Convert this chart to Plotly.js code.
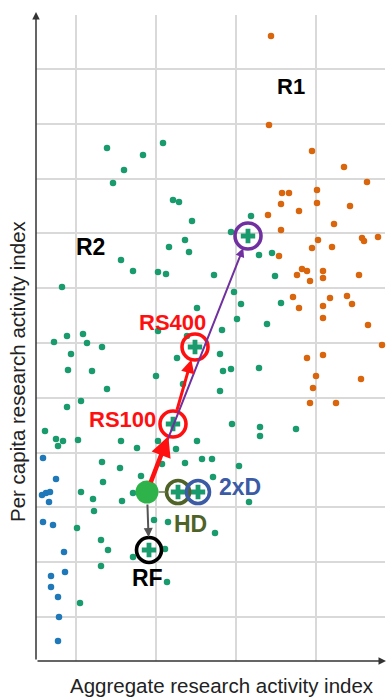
<!DOCTYPE html>
<html><head><meta charset="utf-8">
<script src="https://cdn.plot.ly/plotly-3.0.1.min.js"></script>
<style>html,body{margin:0;padding:0;background:#fff}#chart{width:387px;height:698px}</style>
</head><body><div id="chart"></div>
<script>
// Index units (aggregate index on x, per-capita index on y)
const greenX = [71,88,77,107,127,137,143,156,215,195,149,133,153,85,97,122,130,178,26,198,205,245,223,236,239,201,231,186,184,161,122,151,18,31,47,51,66,35,32,56,71,45,31,120,141,147,187,195,223,184,196,224,224,260,9,20,22,27,42,85,101,122,140,161,66,84,105,126,149,166,176,203,177,67,86,45,57,97,58,41,118,132,179,65,72,97,129,65,131,44,213];
const greenY = [513,491,478,506,518,461,459,440,445,429,421,414,409,401,390,389,387,386,374,369,357,358,406,408,385,342,337,331,307,353,330,325,319,325,327,318,314,307,291,290,272,260,254,285,303,277,290,292,293,270,237,234,225,232,230,222,215,220,221,220,213,220,212,220,199,193,185,197,198,202,202,195,184,179,160,169,162,168,150,133,141,139,128,121,111,104,112,95,79,58,159];
const orangeX = [235,233,276,308,331,246,253,281,245,281,263,314,232,298,245,282,326,328,342,296,276,243,266,271,287,261,287,274,323,257,294,311,263,287,316,287,332,346,271,287,280,325,277,274,300];
const orangeY = [625,536,510,494,479,468,468,471,457,458,450,455,446,437,431,421,423,420,424,414,413,405,392,390,390,386,383,380,386,364,363,365,353,355,357,343,336,316,303,306,285,282,273,258,258];
const blueX = [7,20,6,10,14,13,7,17,28,29,15,15,22,23,22];
const blueY = [203,182,166,168,169,159,139,136,109,89,85,74,64,44,20];

// Scenario points: start, RS100, RS400, 2x-aggregate (purple), HD, 2xD, RF
const scenNames = ["Start","RS100","RS400","R1 target","HD","2xD","RF"];
const scenX = [111,137,159,212,142,162,113];
const scenY = [169,237,314,425,169,169,111];

const FONT = "Liberation Sans, Arial, sans-serif";
const GREEN = "#1a9b6e", ORANGE = "#d9650d", BLUE = "#1f78b8";
const RED = "#ff1010", PURPLE = "#7030a0", OLIVE = "#4f6228", NAVY = "#3b5ba5";

const ringIdx = [1,2,3,4,5,6];
const ringColors = [RED, RED, PURPLE, OLIVE, NAVY, "#000000"];
const ringSizes = [26, 26, 26, 23, 23, 25];

const traces = [
  {type:"scatter", mode:"markers", x:greenX, y:greenY, marker:{color:GREEN, size:6.5}, hoverinfo:"none", cliponaxis:false},
  {type:"scatter", mode:"markers", x:orangeX, y:orangeY, marker:{color:ORANGE, size:6.5}, hoverinfo:"none", cliponaxis:false},
  {type:"scatter", mode:"markers", x:blueX, y:blueY, marker:{color:BLUE, size:6.5}, hoverinfo:"none", cliponaxis:false},
  {type:"scatter", mode:"markers", x:ringIdx.map(i=>scenX[i]), y:ringIdx.map(i=>scenY[i]),
   marker:{symbol:"cross", color:GREEN, size:12}, hoverinfo:"none"},
  {type:"scatter", mode:"markers", x:[scenX[0]], y:[scenY[0]], marker:{color:"#2db34a", size:23}, hoverinfo:"none"},
  {type:"scatter", mode:"markers", x:ringIdx.map(i=>scenX[i]), y:ringIdx.map(i=>scenY[i]),
   marker:{symbol:"circle", color:"rgba(0,0,0,0)", size:ringSizes, opacity:1, line:{color:ringColors, width:3.6}}, hoverinfo:"none"}
];

function arrow(from, to, color, width, head, so, sso){
  return {x:scenX[to], y:scenY[to], ax:scenX[from], ay:scenY[from], xref:"x", yref:"y", axref:"x", ayref:"y",
    text:"", showarrow:true, arrowcolor:color, arrowwidth:width, arrowhead:head, arrowsize:0.9, standoff:so, startstandoff:sso};
}
function label(t, px, py, color, size){
  return {x:px, y:py, xref:"x", yref:"y", text:"<b>"+t+"</b>", showarrow:false,
    font:{family:FONT, size:size, color:color}, xanchor:"center", yanchor:"middle"};
}

const annotations = [
  arrow(0,4, "#6b7a4a", 1.5, 0, 12, 10),
  arrow(0,6, "#555555", 2, 2, 13, 11),
  arrow(0,3, PURPLE, 2, 2, 13, 11),
  arrow(0,1, RED, 4.5, 2, 13, 9),
  arrow(1,2, RED, 3, 2, 13, 13),
  label("R1", 255, 575, "#000", 22),
  label("R2", 54, 414, "#000", 23),
  label("RS400", 136, 339, RED, 22),
  label("RS100", 86, 242, RED, 22),
  label("2xD", 204, 174, NAVY, 23),
  label("HD", 154, 137, OLIVE, 23),
  label("RF", 111, 83, "#000", 23),
  // axes arrows
  {x:0, y:1.0+3/646, xref:"paper", yref:"paper", ax:0, ay:649, axref:"pixel", ayref:"pixel", text:"", showarrow:true,
   arrowcolor:"#333", arrowwidth:1.5, arrowhead:2, arrowsize:1},
  {x:1.0+1/349, y:0, xref:"paper", yref:"paper", ax:-350, ay:0, text:"", showarrow:true,
   arrowcolor:"#333", arrowwidth:1.5, arrowhead:2, arrowsize:1},
  {x:(222-36)/349, y:-(685-661)/646, xref:"paper", yref:"paper", text:"Aggregate research activity index", showarrow:false,
   font:{family:FONT, size:20.5, color:"#222"}, xanchor:"center", yanchor:"middle"},
  {x:-(36-18)/349, y:(661-371)/646, xref:"paper", yref:"paper", text:"Per capita research activity index", showarrow:false,
   textangle:-90, font:{family:FONT, size:20.5, color:"#222"}, xanchor:"center", yanchor:"middle"}
];

const layout = {
  width:387, height:698,
  margin:{l:36, r:2, t:15, b:37, pad:0},
  paper_bgcolor:"#fff", plot_bgcolor:"#fff",
  showlegend:false,
  xaxis:{range:[0,349], showticklabels:false, ticks:"", tick0:40, dtick:80, showgrid:true, gridcolor:"#d9d9d9", gridwidth:2, zeroline:false, showline:false, fixedrange:true},
  yaxis:{range:[0,646], showticklabels:false, ticks:"", tick0:44, dtick:54.8, showgrid:true, gridcolor:"#d9d9d9", gridwidth:2, zeroline:false, showline:false, fixedrange:true},
  annotations:annotations,
  font:{family:FONT}
};

Plotly.newPlot("chart", traces, layout, {displayModeBar:false, staticPlot:true});
</script>
</body></html>
